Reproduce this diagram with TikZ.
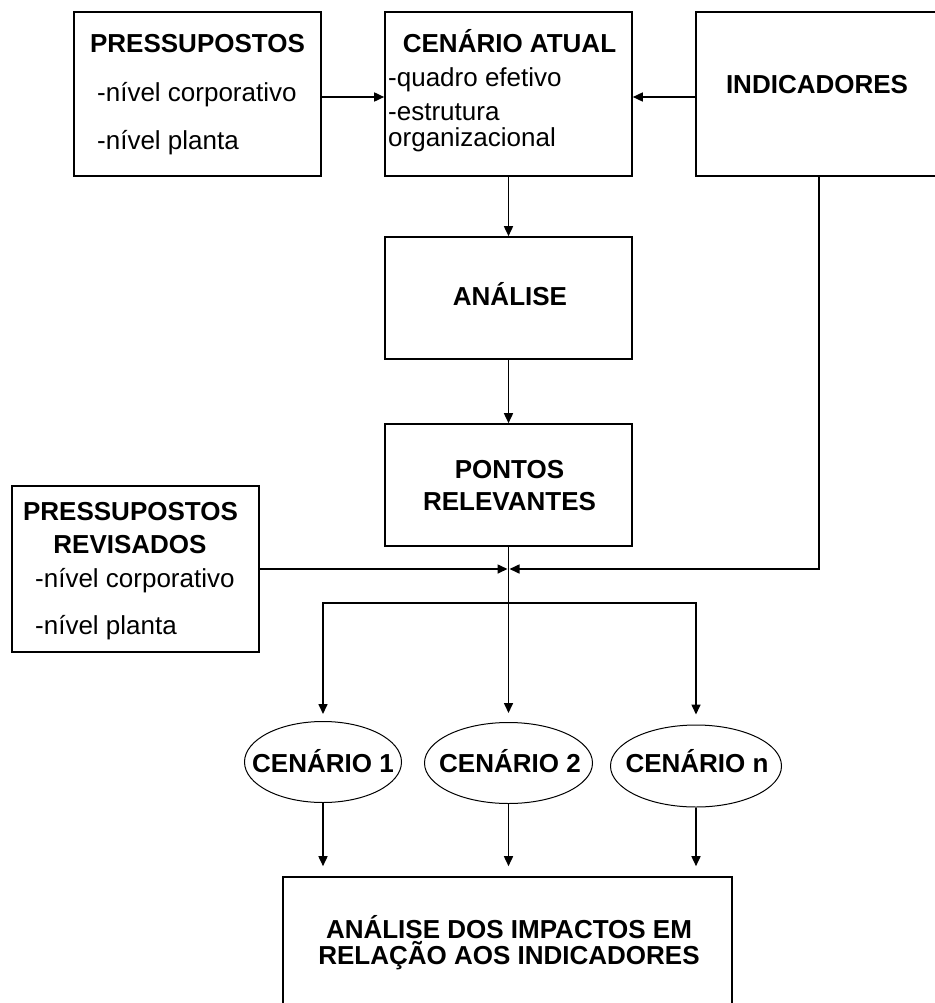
\documentclass[tikz,border=0pt]{standalone}
\usepackage{fontspec}
\setmainfont{Liberation Sans}
\usetikzlibrary{positioning, arrows.meta, shapes.geometric}

\begin{document}
\begin{tikzpicture}[
  x=1pt, y=-1pt,
  font=\fontsize{26}{32}\selectfont,
  box/.style={draw, line width=1.6pt, inner sep=0pt, minimum width=247pt},
  oval/.style={ellipse, draw, line width=1pt, inner sep=0pt, minimum height=81pt},
  ttl/.style={anchor=base, inner sep=0pt, font=\fontsize{26}{32}\selectfont\bfseries},
  item/.style={anchor=base west, inner sep=0pt},
  arr/.style={-{Triangle[length=10pt,width=9pt]}, line width=1.6pt},
]
  \useasboundingbox (0,0) rectangle (934,1003);

  % top row
  \node[box, minimum height=164pt] (pbox) at (197.5,94) {};
  \node[box, minimum height=164pt] (cabox) at (508.5,94) {};
  \node[box, minimum height=164pt, minimum width=246pt] (ibox) at (819,94) {};

  \node[ttl] (ptl) at (197.5,53) {PRESSUPOSTOS};
  \node[item] (pa) at (97,102) {-nível corporativo};
  \node[item] (pb) at (97,150) {-nível planta};

  \node[ttl] (catl) at (509.5,53) {CENÁRIO ATUAL};
  \node[item] (caa) at (388,87) {-quadro efetivo};
  \node[item] (cab) at (388,121) {-estrutura};
  \node[item] (cac) at (388,147) {organizacional};

  \node[ttl] (itl) at (817,94) {INDICADORES};

  % middle column
  \node[box, minimum height=122pt] (anbox) at (508.5,298) {};
  \node[ttl] (antl) at (510,305) {ANÁLISE};
  \node[box, minimum height=122pt] (ptbox) at (508.5,485) {};
  \node[ttl] (pttl) at (509.5,478) {PONTOS};
  \node[ttl] (pttl2) at (509.5,510) {RELEVANTES};

  % revised assumptions
  \node[box, minimum height=166pt] (rbox) at (135.5,569) {};
  \node[ttl] (rtl) at (130.5,520) {PRESSUPOSTOS};
  \node[ttl] (rtl2) at (130,553) {REVISADOS};
  \node[item] (ra) at (35,587) {-nível corporativo};
  \node[item] (rb) at (35,634) {-nível planta};

  % scenarios
  \node[oval, minimum width=157pt] (cen1) at (323,762) {};
  \node[oval, minimum width=168pt] (cen2) at (508.5,763) {};
  \node[oval, minimum width=171pt, minimum height=82pt] (cenn) at (696,766) {};
  \node[ttl] (c1tl) at (323,772) {CENÁRIO 1};
  \node[ttl] (c2tl) at (510,772) {CENÁRIO 2};
  \node[ttl] (cntl) at (697,772) {CENÁRIO n};

  % impact analysis
  \node[box, minimum width=449pt, minimum height=138pt] (bbox) at (507.5,946) {};
  \node[ttl] (btl) at (509,938) {ANÁLISE DOS IMPACTOS EM};
  \node[ttl] (btl2) at (509,964) {RELAÇÃO AOS INDICADORES};

  % connectors
  \coordinate (jn) at (508.5,569);
  \coordinate (sp) at (508.5,603);
  \draw[arr] ([yshift=-3pt]pbox.east) -- ([yshift=-3pt]cabox.west);
  \draw[arr] ([yshift=-3pt]ibox.west) -- ([yshift=-3pt]cabox.east);
  \draw[arr] (cabox) -- (anbox);
  \draw[arr] (anbox) -- (ptbox);
  \draw[arr, shorten >=1pt] (rbox.east) -- (jn);
  \draw[arr, shorten >=1pt] (ibox.south) |- (jn);
  \draw[arr, shorten >=9pt] (ptbox) -- (cen2);
  \draw[arr, shorten >=7pt] (sp) -| (cen1.north);
  \draw[arr, shorten >=10pt] (sp) -| (cenn.north);
  \foreach \c in {cen1, cen2, cenn} \draw[arr, shorten >=10pt] (\c.south) -- (\c.south |- bbox.north);
\end{tikzpicture}
\end{document}
